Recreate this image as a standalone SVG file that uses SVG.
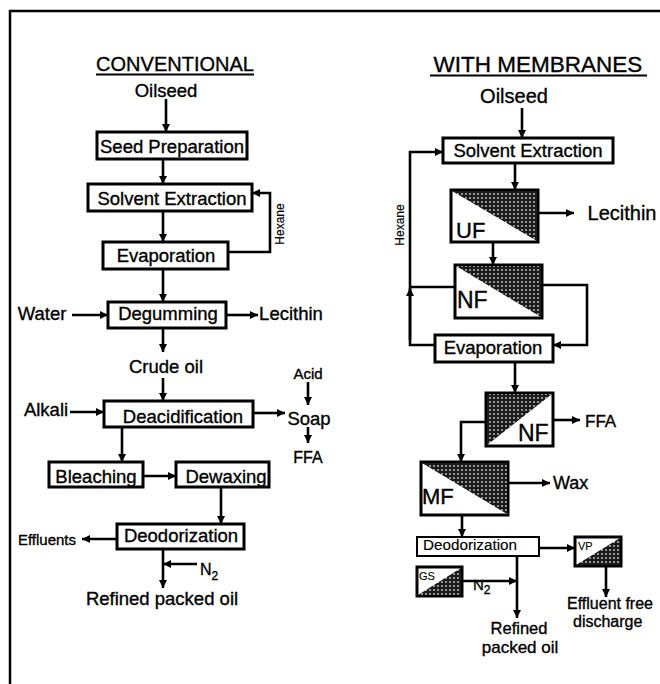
<svg xmlns="http://www.w3.org/2000/svg" width="660" height="684" viewBox="0 0 660 684">
<defs>
<style>
.box{fill:#fff;stroke:#000;stroke-width:3}
.thin{fill:#fff;stroke:#000;stroke-width:2}
.ln{fill:none;stroke:#000;stroke-width:2.6}
.t{font-family:"Liberation Sans",Arial,sans-serif;font-size:18.5px;fill:#000;stroke:#000;stroke-width:0.35}
.m{text-anchor:middle}
.hatch{fill:url(#dots);stroke:none}
</style>
<pattern id="dots" width="4" height="4" patternUnits="userSpaceOnUse">
<rect width="4" height="4" fill="#1a1a1a"/>
<circle cx="2" cy="2" r="1.1" fill="#b0b0b0"/>
</pattern>
<marker id="ah" viewBox="0 0 10 10" refX="10" refY="5" markerWidth="9" markerHeight="8" markerUnits="userSpaceOnUse" orient="auto">
<path d="M0,0 L10,5 L0,10 z" fill="#000"/>
</marker>
</defs>
<rect width="660" height="684" fill="#fff"/>
<path d="M10,684 V11 H660" fill="none" stroke="#000" stroke-width="2.5"/>

<!-- titles -->
<g id="title-conventional">
<text class="t m" x="175" y="71" style="font-size:20px">CONVENTIONAL</text>
<line x1="96" y1="74.5" x2="254" y2="74.5" stroke="#000" stroke-width="2"/>
</g>
<g id="title-membranes">
<text class="t m" x="538" y="72" style="font-size:22.5px">WITH MEMBRANES</text>
<line x1="430" y1="75.5" x2="647" y2="75.5" stroke="#000" stroke-width="2"/>
</g>

<!-- connectors -->
<g id="connectors">
<line class="ln" x1="166" y1="99" x2="166" y2="132" marker-end="url(#ah)"/>
<line class="ln" x1="163" y1="159" x2="163" y2="184" marker-end="url(#ah)"/>
<line class="ln" x1="163" y1="211" x2="163" y2="242" marker-end="url(#ah)"/>
<polyline class="ln" points="228,252 270,252 270,193 252,193" marker-end="url(#ah)"/>
<line class="ln" x1="163" y1="269" x2="163" y2="302" marker-end="url(#ah)"/>
<line class="ln" x1="72" y1="315" x2="108" y2="315" marker-end="url(#ah)"/>
<line class="ln" x1="226" y1="315" x2="258" y2="315" marker-end="url(#ah)"/>
<line class="ln" x1="163" y1="328" x2="163" y2="352" marker-end="url(#ah)"/>
<line class="ln" x1="163" y1="378" x2="163" y2="401" marker-end="url(#ah)"/>
<line class="ln" x1="70" y1="412" x2="104" y2="412" marker-end="url(#ah)"/>
<line class="ln" x1="253" y1="413" x2="285" y2="413" marker-end="url(#ah)"/>
<line class="ln" x1="308" y1="382" x2="308" y2="405" marker-end="url(#ah)"/>
<line class="ln" x1="308" y1="427" x2="308" y2="443" marker-end="url(#ah)"/>
<line class="ln" x1="122" y1="427" x2="122" y2="462" marker-end="url(#ah)"/>
<line class="ln" x1="143" y1="476" x2="176" y2="476" marker-end="url(#ah)"/>
<line class="ln" x1="221" y1="487" x2="221" y2="524" marker-end="url(#ah)"/>
<line class="ln" x1="117" y1="539" x2="82" y2="539" marker-end="url(#ah)"/>
<line class="ln" x1="163" y1="549" x2="163" y2="588" marker-end="url(#ah)"/>
<line class="ln" x1="197" y1="564" x2="163" y2="564" marker-end="url(#ah)"/>

<line class="ln" x1="522" y1="108" x2="522" y2="138" marker-end="url(#ah)"/>
<line class="ln" x1="515" y1="163" x2="515" y2="190" marker-end="url(#ah)"/>
<polyline class="ln" points="435,345 410,345 410,152 443,152" marker-end="url(#ah)"/>
<line class="ln" x1="410" y1="340" x2="410" y2="288" marker-end="url(#ah)"/>
<line class="ln" x1="455" y1="287" x2="410" y2="287"/>
<line class="ln" x1="538" y1="213" x2="574" y2="213" marker-end="url(#ah)"/>
<line class="ln" x1="493" y1="242" x2="493" y2="265" marker-end="url(#ah)"/>
<polyline class="ln" points="542,285 587,285 587,345 553,345" marker-end="url(#ah)"/>
<line class="ln" x1="515" y1="362" x2="515" y2="393" marker-end="url(#ah)"/>
<line class="ln" x1="553" y1="420" x2="580" y2="420" marker-end="url(#ah)"/>
<polyline class="ln" points="486,422 461,422 461,462" marker-end="url(#ah)"/>
<line class="ln" x1="508" y1="483" x2="550" y2="483" marker-end="url(#ah)"/>
<line class="ln" x1="462" y1="515" x2="462" y2="537" marker-end="url(#ah)"/>
<line class="ln" x1="539" y1="548" x2="575" y2="548" marker-end="url(#ah)"/>
<line class="ln" x1="606" y1="566" x2="606" y2="597" marker-end="url(#ah)"/>
<line class="ln" x1="517" y1="556" x2="517" y2="618" marker-end="url(#ah)"/>
<line class="ln" x1="462" y1="581" x2="517" y2="581" marker-end="url(#ah)"/>
</g>

<!-- conventional nodes -->
<g id="oilseed-l"><text class="t m" x="166" y="97">Oilseed</text></g>
<g id="seed-prep"><rect class="box" x="97" y="132" width="150" height="27"/><text class="t m" x="172" y="153">Seed Preparation</text></g>
<g id="solvent-l"><rect class="box" x="88" y="184" width="164" height="27"/><text class="t m" x="172" y="205">Solvent Extraction</text></g>
<g id="hexane-l"><text class="t m" style="font-size:12px;stroke-width:0.2px" transform="translate(284,224) rotate(-90)">Hexane</text></g>
<g id="evap-l"><rect class="box" x="103" y="242" width="125" height="27"/><text class="t m" x="166" y="262">Evaporation</text></g>
<g id="water"><text class="t m" x="42" y="320">Water</text></g>
<g id="degum"><rect class="box" x="108" y="302" width="118" height="26"/><text class="t m" x="168" y="320">Degumming</text></g>
<g id="lecithin-l"><text class="t m" x="291" y="320">Lecithin</text></g>
<g id="crude"><text class="t m" x="166" y="373">Crude oil</text></g>
<g id="alkali"><text class="t m" x="46" y="416">Alkali</text></g>
<g id="deacid"><rect class="box" x="104" y="401" width="149" height="26"/><text class="t m" x="183" y="423">Deacidification</text></g>
<g id="acid"><text class="t m" x="308" y="379" style="font-size:15px">Acid</text></g>
<g id="soap"><text class="t m" x="309" y="425">Soap</text></g>
<g id="ffa-l"><text class="t m" x="308" y="463" style="font-size:16px">FFA</text></g>
<g id="bleach"><rect class="box" x="49" y="462" width="94" height="25"/><text class="t m" x="96" y="483">Bleaching</text></g>
<g id="dewax"><rect class="box" x="176" y="462" width="93" height="25"/><text class="t m" x="226" y="483">Dewaxing</text></g>
<g id="deodor-l"><rect class="box" x="117" y="524" width="127" height="25"/><text class="t m" x="181" y="542">Deodorization</text></g>
<g id="effluents"><text class="t m" x="47" y="545" style="font-size:15px">Effluents</text></g>
<g id="n2-l"><text class="t" x="200" y="575" style="font-size:16px">N<tspan style="font-size:12px" dy="5">2</tspan></text></g>
<g id="refined-l"><text class="t m" x="162" y="605">Refined packed oil</text></g>

<!-- membrane nodes -->
<g id="oilseed-r"><text class="t m" x="514" y="103" style="font-size:20px">Oilseed</text></g>
<g id="solvent-r"><rect class="box" x="443" y="138" width="170" height="25"/><text class="t m" x="528" y="157">Solvent Extraction</text></g>
<g id="hexane-r"><text class="t m" style="font-size:12px;stroke-width:0.2px" transform="translate(404,225) rotate(-90)">Hexane</text></g>
<g id="uf"><rect class="box" x="451" y="190" width="87" height="52"/><polygon class="hatch" points="452,191 537,191 537,241"/><text class="t" x="456" y="238" style="font-size:22px">UF</text></g>
<g id="lecithin-r"><text class="t m" x="622" y="220" style="font-size:20px">Lecithin</text></g>
<g id="nf1"><rect class="box" x="455" y="265" width="87" height="53"/><polygon class="hatch" points="456,266 541,266 541,317"/><text class="t" x="457" y="308" style="font-size:23px">NF</text></g>
<g id="evap-r"><rect class="box" x="435" y="335" width="118" height="27"/><text class="t m" x="493" y="354">Evaporation</text></g>
<g id="nf2"><rect class="box" x="486" y="393" width="67" height="53"/><polygon class="hatch" points="487,394 552,394 487,445"/><text class="t" x="518" y="441" style="font-size:23px">NF</text></g>
<g id="ffa-r"><text class="t" x="585" y="427" style="font-size:17px">FFA</text></g>
<g id="mf"><rect class="box" x="421" y="462" width="87" height="53"/><polygon class="hatch" points="422,463 507,463 507,514"/><text class="t" x="422" y="504" style="font-size:22px">MF</text></g>
<g id="wax"><text class="t" x="553" y="489" style="font-size:18px">Wax</text></g>
<g id="deodor-r"><rect class="thin" x="417" y="537" width="122" height="19"/><text class="t" x="423" y="550" style="font-size:14px;stroke-width:0.15px" textLength="94" lengthAdjust="spacingAndGlyphs">Deodorization</text></g>
<g id="vp"><rect class="box" x="575" y="537" width="46" height="29"/><polygon class="hatch" points="620,538 620,565 576,565"/><text class="t" x="578" y="550" style="font-size:11px;stroke-width:0.1px">VP</text></g>
<g id="gs"><rect class="box" x="417" y="567" width="45" height="29"/><polygon class="hatch" points="461,568 461,595 418,595"/><text class="t" x="419" y="580" style="font-size:11px;stroke-width:0.1px">GS</text></g>
<g id="n2-r"><text class="t" x="473" y="590" style="font-size:15px">N<tspan style="font-size:12px" dy="4">2</tspan></text></g>
<g id="discharge"><text class="t" x="567" y="609" style="font-size:16px">Effluent free</text><text class="t" x="573" y="627" style="font-size:16px">discharge</text></g>
<g id="refined-r"><text class="t m" x="519" y="634" style="font-size:16.5px">Refined</text><text class="t m" x="520" y="653" style="font-size:17px">packed oil</text></g>
</svg>
